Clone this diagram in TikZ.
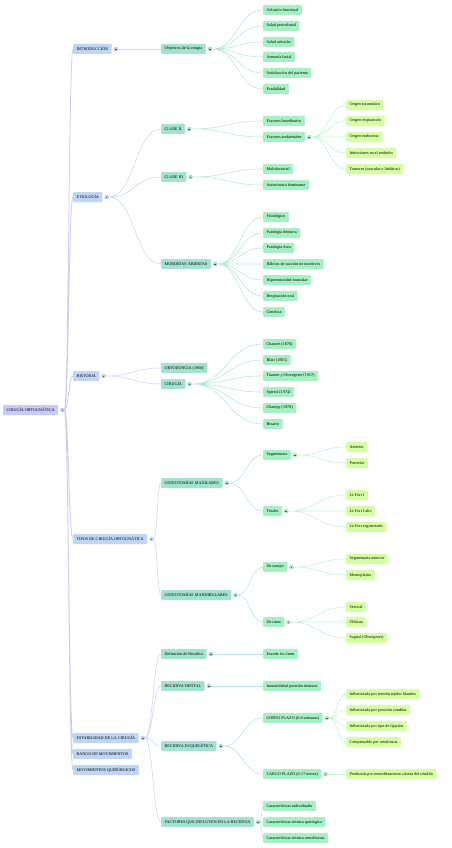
\documentclass[tikz,border=0pt]{standalone}
\usepackage{fontspec}
\setmainfont{Liberation Serif}
\definecolor{rootfill}{HTML}{C7CAF6}
\definecolor{onefill}{HTML}{BED5F4}
\definecolor{twofill}{HTML}{A2E2D0}
\definecolor{threefill}{HTML}{A5EFC2}
\definecolor{fourfill}{HTML}{D5FDA2}
\definecolor{rootline}{HTML}{CACDF6}
\definecolor{oneline}{HTML}{C9DAF5}
\definecolor{twoline}{HTML}{B6E9DA}
\definecolor{threeline}{HTML}{C4F3D5}
\usetikzlibrary{positioning,calc}

\begin{document}
\begin{tikzpicture}[
  x=2pt, y=-2pt,
  box/.style={rounded corners=2pt, anchor=west, inner xsep=7pt, inner ysep=0pt, minimum height=20pt,
    font=\fontsize{8.3}{9}\selectfont, text=black},
  rootbox/.style={box, fill=rootfill, draw=rootfill!60},
  onebox/.style={box, fill=onefill, draw=onefill!60},
  twobox/.style={box, fill=twofill, draw=twofill!60},
  threebox/.style={box, fill=threefill, draw=threefill!60},
  fourbox/.style={box, fill=fourfill, draw=fourfill!60},
  toggle/.style={circle, fill=#1, draw=#1!70!black!60, line width=0.5pt, inner sep=0pt, minimum size=8pt,
    path picture={\draw[line width=0.5pt, #1!40!black] ([xshift=-1.6pt]path picture bounding box.center) -- ([xshift=1.6pt]path picture bounding box.center);}},
  branch/.style={line width=#1, to path={let \p1=(\tikztostart), \p2=(\tikztotarget) in
    .. controls ({0.5*\x1+0.5*\x2},\y1) and ({0.5*\x1+0.5*\x2},\y2) .. (\tikztotarget)}},
  branch/.default=1.2pt
]
\useasboundingbox (0,0) rectangle (452,848);

% root
\node[rootbox] (root) at (3,410) {CIRUGÍA ORTOGNÁTICA};
\node[toggle=rootfill, right=4pt of root] (root-t) {};

% first level
\node[onebox] (intro) at (73,49) {INTRODUCCIÓN};
\node[onebox] (etio) at (73,197) {ETIOLOGÍA};
\node[onebox] (hist) at (73,376) {HISTORIA};
\node[onebox] (tipos) at (73,539) {TIPOS DE CIRUGÍA ORTOGNÁTICA};
\node[onebox] (estab) at (73,738) {ESTABILIDAD DE LA CIRUGÍA};
\node[onebox] (rango) at (73,754) {RANGO DE MOVIMIENTOS};
\node[onebox] (movq) at (73,770) {MOVIMIENTOS QUIRÚRGICOS};
\node[toggle=onefill, right=4pt of intro] (intro-t) {};
\node[toggle=onefill, right=4pt of etio] (etio-t) {};
\node[toggle=onefill, right=4pt of hist] (hist-t) {};
\node[toggle=onefill, right=4pt of tipos] (tipos-t) {};
\node[toggle=onefill, right=4pt of estab] (estab-t) {};

% second level
\node[twobox] (obj) at (161,49) {Objetivos de la cirugía};
\node[twobox] (cii) at (161,129) {CLASE II};
\node[twobox] (ciii) at (161,177) {CLASE III};
\node[twobox] (mord) at (161,264) {MORDIDAS ABIERTAS};
\node[twobox] (orto) at (161,368) {ORTODONCIA (1960)};
\node[twobox] (ciru) at (161,384) {CIRUGÍA};
\node[twobox] (maxi) at (161,483) {OSTEOTOMÍAS MAXILARES};
\node[twobox] (mand) at (161,595) {OSTEOTOMÍAS MANDIBULARES};
\node[twobox] (defr) at (161,654) {Definición de Recidiva};
\node[twobox] (recd) at (161,686) {RECIDIVA DENTAL};
\node[twobox] (rece) at (161,746) {RECIDIVA ESQUELÉTICA};
\node[twobox] (fact) at (161,822) {FACTORES QUE INFLUYEN EN LA RECIDIVA};
\node[toggle=twofill, right=4pt of obj] (obj-t) {};
\node[toggle=twofill, right=4pt of cii] (cii-t) {};
\node[toggle=twofill, right=4pt of ciii] (ciii-t) {};
\node[toggle=twofill, right=4pt of mord] (mord-t) {};
\node[toggle=twofill, right=4pt of ciru] (ciru-t) {};
\node[toggle=twofill, right=4pt of maxi] (maxi-t) {};
\node[toggle=twofill, right=4pt of mand] (mand-t) {};
\node[toggle=twofill, right=4pt of defr] (defr-t) {};
\node[toggle=twofill, right=4pt of recd] (recd-t) {};
\node[toggle=twofill, right=4pt of rece] (rece-t) {};
\node[toggle=twofill, right=4pt of fact] (fact-t) {};

% third level
\node[threebox] (ocl) at (263,10) {Oclusión funcional};
\node[threebox] (perio) at (263,26) {Salud periodontal};
\node[threebox] (artic) at (263,42) {Salud articular};
\node[threebox] (armon) at (263,57) {Armonía facial};
\node[threebox] (satis) at (263,73) {Satisfacción del paciente};
\node[threebox] (estb) at (263,89) {Estabilidad};
\node[threebox] (hered) at (263,121) {Factores hereditarios};
\node[threebox] (ambi) at (263,137) {Factores ambientales};
\node[threebox] (multi) at (263,169) {Multifactorial};
\node[threebox] (autos) at (263,185) {Autosómico dominante};
\node[threebox] (fisio) at (263,217) {Fisiológico};
\node[threebox] (patd) at (263,233) {Patología dentaria};
\node[threebox] (pato) at (263,248) {Patología ósea};
\node[threebox] (habit) at (263,264) {Hábitos de succión no nutritivos};
\node[threebox] (hiper) at (263,280) {Hipertonicidad muscular};
\node[threebox] (resp) at (263,296) {Respiración oral};
\node[threebox] (genet) at (263,312) {Genética};
\node[threebox] (chau) at (263,344) {Chauvet (1870)};
\node[threebox] (blair) at (263,360) {Blair (1905)};
\node[threebox] (traun) at (263,376) {Trauner y Obwegeser (1957)};
\node[threebox] (spie) at (263,392) {Spiessl (1974)};
\node[threebox] (champ) at (263,408) {Champy (1978)};
\node[threebox] (bizar) at (263,424) {Bizarro};
\node[threebox] (segm) at (263,455) {Segmentaria};
\node[threebox] (tot) at (263,511) {Totales};
\node[threebox] (cuer) at (263,567) {De cuerpo};
\node[threebox] (rama) at (263,622) {De rama};
\node[threebox] (exce) at (263,654) {Excede los 2mm};
\node[threebox] (inest) at (263,686) {Inestabilidad posición dentaria};
\node[threebox] (corto) at (263,718) {CORTO PLAZO (6-8 semanas)};
\node[threebox] (largo) at (263,774) {LARGO PLAZO (6-17 meses)};
\node[threebox] (indiv) at (263,806) {Características individuales};
\node[threebox] (quir) at (263,822) {Características técnica quirúrgica};
\node[threebox] (ortod) at (263,838) {Características técnica ortodóncica};
\node[toggle=threefill, right=4pt of ambi] (ambi-t) {};
\node[toggle=threefill, right=4pt of segm] (segm-t) {};
\node[toggle=threefill, right=4pt of tot] (tot-t) {};
\node[toggle=threefill, right=4pt of cuer] (cuer-t) {};
\node[toggle=threefill, right=4pt of rama] (rama-t) {};
\node[toggle=threefill, right=4pt of corto] (corto-t) {};
\node[toggle=threefill, right=4pt of largo] (largo-t) {};

% fourth level
\node[fourbox] (trau) at (346,105) {Origen traumático};
\node[fourbox] (respi) at (346,121) {Origen respiratorio};
\node[fourbox] (endo) at (346,137) {Origen endocrino};
\node[fourbox] (infec) at (346,153) {Infecciones en el embrión};
\node[fourbox] (tumor) at (346,169) {Tumores (vascular o linfático)};
\node[fourbox] (anter) at (346,447) {Anterior};
\node[fourbox] (poste) at (346,463) {Posterior};
\node[fourbox] (lfi) at (346,495) {Le Fort I};
\node[fourbox] (lfalto) at (346,511) {Le Fort I alto};
\node[fourbox] (lfseg) at (346,527) {Le Fort segmentado};
\node[fourbox] (segant) at (346,559) {Segmentaria anterior};
\node[fourbox] (mento) at (346,575) {Mentoplastia};
\node[fourbox] (vert) at (346,607) {Vertical};
\node[fourbox] (obli) at (346,622) {Oblicua};
\node[fourbox] (sagi) at (346,638) {Sagital (Obwegeser)};
\node[fourbox] (tens) at (346,694) {Influenciada por tensión tejidos blandos};
\node[fourbox] (cond) at (346,710) {Influenciada por posición condilar};
\node[fourbox] (fija) at (346,726) {Influenciada por tipo de fijación};
\node[fourbox] (comp) at (346,742) {Compensable por ortodoncia};
\node[fourbox] (remo) at (346,774) {Producida por remodelamiento cabeza del cóndilo};

% connectors
\draw[rootline, branch=1.6pt] (root-t.east) to (intro.west) (root-t.east) to (etio.west)
  (root-t.east) to (hist.west) (root-t.east) to (tipos.west) (root-t.east) to (estab.west)
  (root-t.east) to (rango.west) (root-t.east) to (movq.west);
\draw[oneline, branch] (intro-t.east) to (obj.west);
\draw[oneline, branch] (etio-t.east) to (cii.west) (etio-t.east) to (ciii.west) (etio-t.east) to (mord.west);
\draw[oneline, branch] (hist-t.east) to (orto.west) (hist-t.east) to (ciru.west);
\draw[oneline, branch] (tipos-t.east) to (maxi.west) (tipos-t.east) to (mand.west);
\draw[oneline, branch] (estab-t.east) to (defr.west) (estab-t.east) to (recd.west)
  (estab-t.east) to (rece.west) (estab-t.east) to (fact.west);

\draw[twoline, branch] (obj-t.east) to (ocl.west) (obj-t.east) to (perio.west) (obj-t.east) to (artic.west)
  (obj-t.east) to (armon.west) (obj-t.east) to (satis.west) (obj-t.east) to (estb.west);
\draw[twoline, branch] (cii-t.east) to (hered.west) (cii-t.east) to (ambi.west);
\draw[twoline, branch] (ciii-t.east) to (multi.west) (ciii-t.east) to (autos.west);
\draw[twoline, branch] (mord-t.east) to (fisio.west) (mord-t.east) to (patd.west) (mord-t.east) to (pato.west)
  (mord-t.east) to (habit.west) (mord-t.east) to (hiper.west) (mord-t.east) to (resp.west)
  (mord-t.east) to (genet.west);
\draw[twoline, branch] (ciru-t.east) to (chau.west) (ciru-t.east) to (blair.west) (ciru-t.east) to (traun.west)
  (ciru-t.east) to (spie.west) (ciru-t.east) to (champ.west) (ciru-t.east) to (bizar.west);
\draw[twoline, branch] (maxi-t.east) to (segm.west) (maxi-t.east) to (tot.west);
\draw[twoline, branch] (mand-t.east) to (cuer.west) (mand-t.east) to (rama.west);
\draw[twoline, branch] (defr-t.east) to (exce.west);
\draw[twoline, branch] (recd-t.east) to (inest.west);
\draw[twoline, branch] (rece-t.east) to (corto.west) (rece-t.east) to (largo.west);
\draw[twoline, branch] (fact-t.east) to (indiv.west) (fact-t.east) to (quir.west) (fact-t.east) to (ortod.west);

\draw[threeline, branch] (ambi-t.east) to (trau.west) (ambi-t.east) to (respi.west) (ambi-t.east) to (endo.west)
  (ambi-t.east) to (infec.west) (ambi-t.east) to (tumor.west);
\draw[threeline, branch] (segm-t.east) to (anter.west) (segm-t.east) to (poste.west);
\draw[threeline, branch] (tot-t.east) to (lfi.west) (tot-t.east) to (lfalto.west) (tot-t.east) to (lfseg.west);
\draw[threeline, branch] (cuer-t.east) to (segant.west) (cuer-t.east) to (mento.west);
\draw[threeline, branch] (rama-t.east) to (vert.west) (rama-t.east) to (obli.west) (rama-t.east) to (sagi.west);
\draw[threeline, branch] (corto-t.east) to (tens.west) (corto-t.east) to (cond.west) (corto-t.east) to (fija.west)
  (corto-t.east) to (comp.west);
\draw[threeline, branch] (largo-t.east) to (remo.west);
\end{tikzpicture}
\end{document}
